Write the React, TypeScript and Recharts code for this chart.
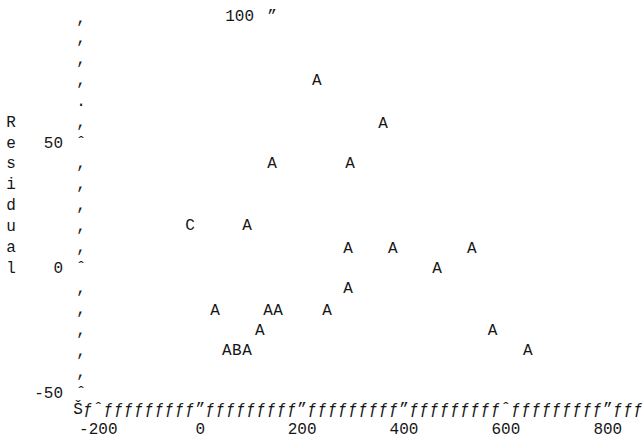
import { Scatter, ScatterChart, XAxis, YAxis } from 'recharts'

// fitted value (x), residual (y) and the plot symbol printed at each cell
const fitted = [229, 359, 141, 294, -20, 92, 290, 378, 533, 465, 290, 29, 133, 153, 249, 117, 52, 72, 92, 574, 643]
const residual = [75, 58, 42, 42, 17, 17, 8, 8, 8, 0, -8, -17, -17, -17, -17, -25, -33, -33, -33, -25, -33]
const symbols = ['A', 'A', 'A', 'A', 'C', 'A', 'A', 'A', 'A', 'A', 'A', 'A', 'A', 'A', 'A', 'A', 'A', 'B', 'A', 'A', 'A']

const xMajor = [-200, 0, 200, 400, 600, 800]
const xMajorGlyphs = ['ˆ', '”', '”', '”', 'ˆ', '”']
const xStep = 20
const xFirst = -220
const xLast = 860

const yMajor = [-50, 0, 50, 100]
const yMajorLabels = ['-50', '0', '50', '100']
const rowsPerMajor = 6
// axis column glyphs, bottom row first
const yAxisGlyphs = ['ˆ', ',', ',', ',', ',', ',', 'ˆ', ',', ',', ',', ',', ',', 'ˆ', ',', '.', ',', ',', ',', ',']
const yTitle = 'Residual'
const yTitleTopRow = 13

const points = fitted.map((x, i) => ({ x, y: residual[i], s: symbols[i] }))

const xTicks: number[] = []
for (let v = xFirst; v <= xLast; v += xStep) xTicks.push(v)

const yTicks: number[] = []
const rowStep = (yMajor[1] - yMajor[0]) / rowsPerMajor
for (let k = 0; k < yAxisGlyphs.length; k++) yTicks.push(yMajor[0] + k * rowStep)

const mono = {
  fontFamily: "'Liberation Mono', 'DejaVu Sans Mono', monospace",
  fontSize: 16,
  fill: '#161616',
}

function Letter(props: any) {
  const { cx, cy, payload } = props
  return (
    <text x={cx} y={cy} dy={5} textAnchor="middle" {...mono}>
      {payload.s}
    </text>
  )
}

function XTick(props: any) {
  const { x, y, payload, index } = props
  const m = xMajor.indexOf(Math.round(payload.value))
  return (
    <g>
      {index === 0 && (
        <text x={x} y={y} dx={-10} dy={9} textAnchor="middle" {...mono}>
          Š
        </text>
      )}
      <text x={x} y={y} dy={9} textAnchor="middle" {...mono}>
        {m >= 0 ? xMajorGlyphs[m] : 'ƒ'}
      </text>
      {m >= 0 && (
        <text x={x} y={y} dy={29} textAnchor="middle" {...mono}>
          {String(xMajor[m])}
        </text>
      )}
    </g>
  )
}

function YTick(props: any) {
  const { x, y, index } = props
  const m = index % rowsPerMajor === 0 ? index / rowsPerMajor : -1
  const letterIdx = yTitleTopRow - index
  const isTop = m === yMajor.length - 1
  return (
    <g>
      <text x={x} y={y} dy={5} textAnchor="middle" {...mono}>
        {yAxisGlyphs[index]}
      </text>
      {m >= 0 && !isTop && (
        <text x={x} y={y} dx={-18} dy={5} textAnchor="end" {...mono}>
          {yMajorLabels[m]}
        </text>
      )}
      {isTop && (
        <>
          <text x={x} y={y} dx={173} dy={3} textAnchor="end" {...mono}>
            {yMajorLabels[m]}
          </text>
          <text x={x} y={y} dx={191} dy={3} textAnchor="middle" {...mono}>
            ”
          </text>
        </>
      )}
      {letterIdx >= 0 && letterIdx < yTitle.length && (
        <text x={x} y={y} dx={-70} dy={5} textAnchor="middle" {...mono}>
          {yTitle[letterIdx]}
        </text>
      )}
    </g>
  )
}

export default function App() {
  return (
    <div style={{ position: 'absolute', left: 0, top: 0, width: 644, height: 441, background: '#fff' }}>
      <ScatterChart width={644} height={441} margin={{ top: 0, right: 0, bottom: 0, left: 0 }}>
        <XAxis
          type="number"
          dataKey="x"
          domain={[-234, 871]}
          allowDataOverflow
          ticks={xTicks}
          interval={0}
          tick={<XTick />}
          tickLine={false}
          axisLine={false}
          tickSize={0}
          tickMargin={0}
          height={36}
        />
        <YAxis
          type="number"
          dataKey="y"
          domain={[-55, 107]}
          allowDataOverflow
          ticks={yTicks}
          interval={0}
          tick={<YTick />}
          tickLine={false}
          axisLine={false}
          tickSize={0}
          tickMargin={0}
          width={81}
        />
        <Scatter data={points} shape={<Letter />} isAnimationActive={false} />
      </ScatterChart>
    </div>
  )
}
